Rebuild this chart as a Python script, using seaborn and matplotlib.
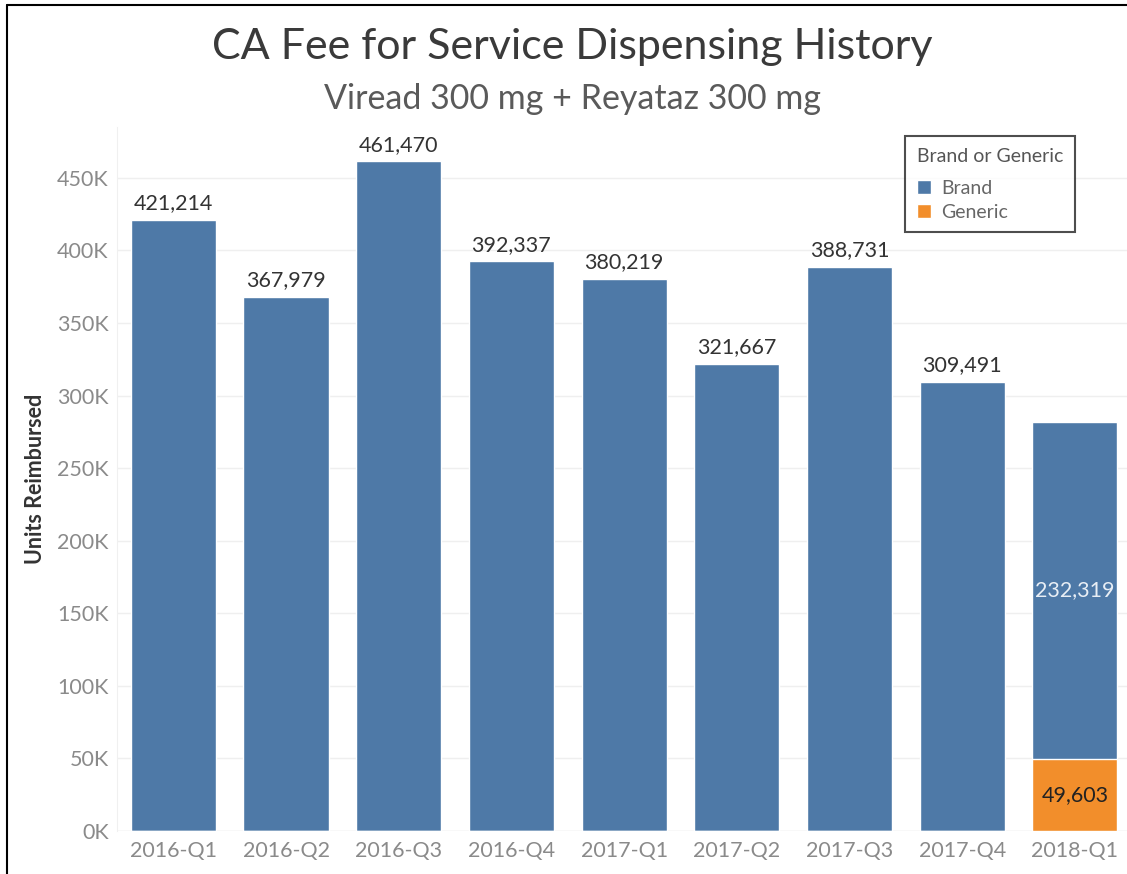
# CA fee-for-service dispensing history, stacked bars by quarter

import pandas as pd
import matplotlib.pyplot as plt
import seaborn as sns
from matplotlib.patches import Patch
from matplotlib.lines import Line2D

# -----------------------------
# DATA
# -----------------------------

quarters = ["2016-Q1", "2016-Q2", "2016-Q3", "2016-Q4", "2017-Q1",
            "2017-Q2", "2017-Q3", "2017-Q4", "2018-Q1"]
brand = [421214, 367979, 461470, 392337, 380219, 321667, 388731, 309491, 232319]
generic = [0, 0, 0, 0, 0, 0, 0, 0, 49603]
y_ticks = [0, 50000, 100000, 150000, 200000, 250000, 300000, 350000, 400000, 450000]

df = pd.DataFrame({"quarter": quarters, "brand": brand, "generic": generic})
df["total"] = df["brand"] + df["generic"]

BLUE = "#4e79a7"
ORANGE = "#f28e2b"

# -----------------------------
# PLOT
# -----------------------------

sns.set_style("white")
plt.rcParams["font.family"] = ["Lato", "DejaVu Sans"]

fig = plt.figure(figsize=(11.27, 8.74), dpi=100)
ax = fig.add_axes([0.1038, 0.0492, 0.9, 0.8055])

sns.barplot(data=df, x="quarter", y="total", color=BLUE, saturation=1,
            width=0.755, ax=ax, zorder=2)
sns.barplot(data=df, x="quarter", y="generic", color=ORANGE, saturation=1,
            width=0.755, ax=ax, zorder=3)

ax.set_xlim(-0.5, 8.5)
ax.set_ylim(0, 485000)
ax.set_yticks(y_ticks)
ax.set_yticklabels([f"{int(v / 1000)}K" for v in y_ticks])
ax.yaxis.grid(True, color="#efefef", linewidth=1, zorder=0)
ax.tick_params(axis="both", length=0, labelsize=15.5, labelcolor="#8a8a8a")
ax.tick_params(axis="x", pad=7)
ax.tick_params(axis="y", pad=6)

for s in ["top", "right", "bottom"]:
    ax.spines[s].set_visible(False)
ax.spines["left"].set_color("#f0f0f0")
ax.axhline(0, color="#f0f0f0", linewidth=1, zorder=1)

ax.set_xlabel("")
ax.set_ylabel("Units Reimbursed", fontsize=15.5, fontweight="bold", color="#333333", labelpad=8)

# value labels
for i, row in df.iterrows():
    if row["generic"] == 0:
        ax.text(i, row["total"] + 4500, f"{row['brand']:,}", ha="center", va="bottom",
                fontsize=15.5, color="#333333")
    else:
        ax.text(i, row["generic"] + row["brand"] / 2, f"{row['brand']:,}", ha="center",
                va="center", fontsize=15.5, color="#e8eef5")
        ax.text(i, row["generic"] / 2, f"{row['generic']:,}", ha="center", va="center",
                fontsize=15.5, color="#222222")

# titles
fig.text(0.508, 0.946, "CA Fee for Service Dispensing History", ha="center", va="center",
         fontsize=31, color="#3a3a3a")
fig.text(0.508, 0.887, "Viread 300 mg + Reyataz 300 mg", ha="center", va="center",
         fontsize=24.5, color="#5a5a5a")

# legend
handles = [Patch(facecolor=BLUE, label="Brand"), Patch(facecolor=ORANGE, label="Generic")]
leg = fig.legend(handles=handles, title="Brand or Generic", loc="upper left",
                 bbox_to_anchor=(905 / 1127, 1 - 136 / 874), frameon=True, fancybox=False,
                 fontsize=14, title_fontsize=14, handlelength=0.75, handleheight=0.75,
                 handletextpad=0.5, labelspacing=0.35, borderpad=0.6, alignment="left",
                 borderaxespad=0)
leg._legend_box.sep = 11
leg.get_frame().set_edgecolor("#222222")
leg.get_frame().set_linewidth(1.5)
leg.get_title().set_color("#555555")
for t in leg.get_texts():
    t.set_color("#666666")

# outer border (left and top)
fig.add_artist(Line2D([7 / 1127, 7 / 1127], [0, 1 - 5 / 874], color="black", linewidth=1.5))
fig.add_artist(Line2D([7 / 1127, 1], [1 - 5 / 874, 1 - 5 / 874], color="black", linewidth=1.5))

fig.savefig("out.png", dpi=100)
